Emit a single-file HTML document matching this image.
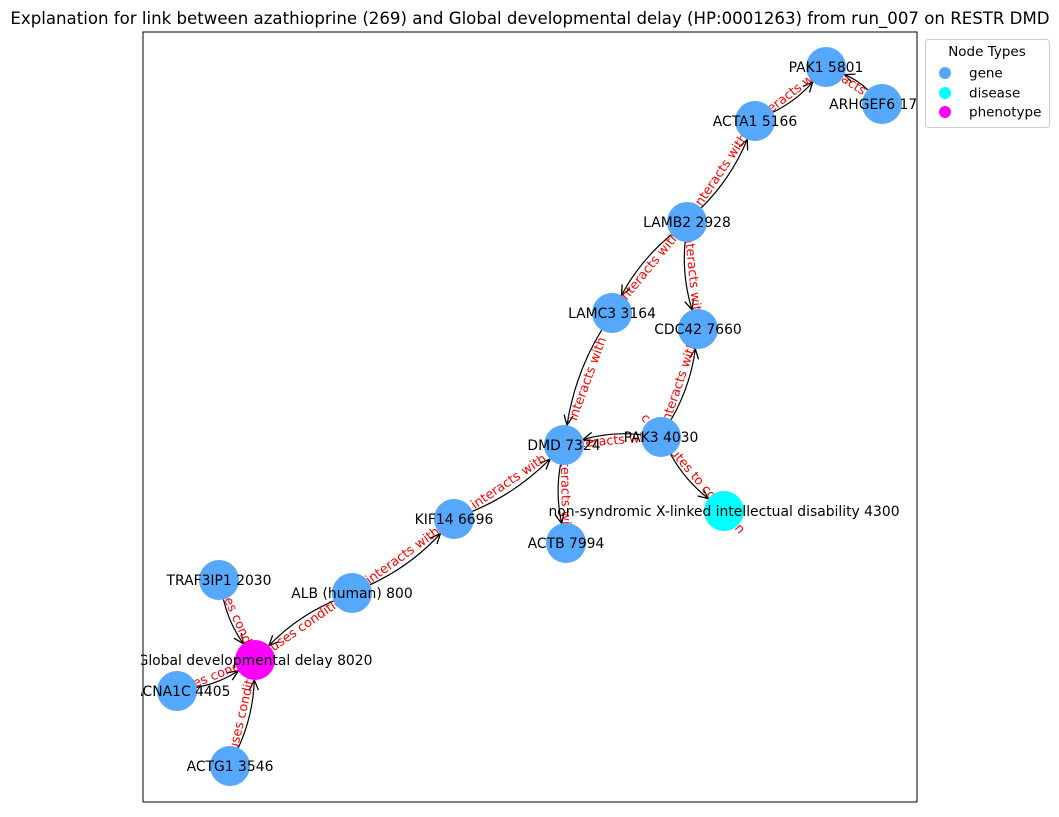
<!DOCTYPE html>
<html><head><meta charset="utf-8"><style>
body{margin:0;background:#fff;}
svg{font-family:"DejaVu Sans","Liberation Sans",sans-serif;}
</style></head><body>
<svg width="1059" height="812" viewBox="0 0 1059 812">
<defs>
<clipPath id="ax"><rect x="141" y="32" width="776" height="770"/></clipPath>
<marker id="arr" viewBox="0 0 12 12" refX="11" refY="6" markerWidth="12" markerHeight="12" markerUnits="userSpaceOnUse" orient="auto">
<path d="M1,1.5 L11,6 L1,10.5" fill="none" stroke="#000" stroke-width="1.3"/></marker>
</defs>
<text x="530" y="24" font-size="16.6" text-anchor="middle">Explanation for link between azathioprine (269) and Global developmental delay (HP:0001263) from run_007 on RESTR DMD</text>
<rect x="143" y="32" width="774" height="770" fill="none" stroke="#000" stroke-width="1"/>
<g id="edges" clip-path="url(#ax)"></g>
<g id="elabels"></g>
<g id="nodes" clip-path="url(#ax)"></g>
<g>
<rect x="925.5" y="39.5" width="124" height="88" rx="3" fill="#fff" stroke="#ccc"/>
<text x="987" y="56" font-size="13.5" text-anchor="middle">Node Types</text>
<circle cx="945" cy="73" r="6" fill="#56a8fc"/>
<text x="969" y="77.5" font-size="13.5">gene</text>
<circle cx="945" cy="93" r="6" fill="#00ffff"/>
<text x="969" y="97.5" font-size="13.5">disease</text>
<circle cx="945" cy="112" r="6" fill="#ff00ff"/>
<text x="969" y="116.5" font-size="13.5">phenotype</text>
</g>
</svg>
<script>
const nodeNames=["PAK1 5801","ARHGEF6 1700","ACTA1 5166","LAMB2 2928","LAMC3 3164","CDC42 7660","DMD 7324","PAK3 4030","non-syndromic X-linked intellectual disability 4300","KIF14 6696","ACTB 7994","TRAF3IP1 2030","ALB (human) 800","Global developmental delay 8020","CACNA1C 4405","ACTG1 3546"];
const nodeTypes=["gene","gene","gene","gene","gene","gene","gene","gene","disease","gene","gene","gene","gene","phenotype","gene","gene"];
const nodeX=[826,882,755,687,612,698,564,661,724,454,566,219,352,255,177,230];
const nodeY=[67,104,121,222,313,329,445,437,511,519,543,580,593,660,691,766];
const edgeFrom=[1,2,3,3,3,4,7,7,7,6,9,12,12,11,14,15];
const edgeTo=[0,0,2,4,5,6,5,6,8,10,6,9,13,13,13,13];
const edgeLabels=["interacts with","interacts with","interacts with","interacts with","interacts with","interacts with","interacts with","interacts with","contributes to condition","interacts with","interacts with","interacts with","causes condition","causes condition","causes condition","causes condition"];
const colors={gene:"#56a8fc",disease:"#00ffff",phenotype:"#ff00ff"};
const NS="http://www.w3.org/2000/svg";
const R=20, rad=0.1;
const eg=document.getElementById('edges'),lg=document.getElementById('elabels'),ng=document.getElementById('nodes');
for(let i=0;i<edgeFrom.length;i++){
 const x1=nodeX[edgeFrom[i]],y1=nodeY[edgeFrom[i]],x2=nodeX[edgeTo[i]],y2=nodeY[edgeTo[i]];
 const dx=x2-x1,dy=y2-y1,mx=(x1+x2)/2,my=(y1+y2)/2;
 const cx=mx-rad*dy,cy=my+rad*dx;
 let ux=cx-x1,uy=cy-y1,l=Math.hypot(ux,uy);const sx=x1+R*ux/l,sy=y1+R*uy/l;
 ux=cx-x2;uy=cy-y2;l=Math.hypot(ux,uy);const ex=x2+R*ux/l,ey=y2+R*uy/l;
 const p=document.createElementNS(NS,'path');
 p.setAttribute('d',`M${sx},${sy} Q${cx},${cy} ${ex},${ey}`);
 p.setAttribute('fill','none');p.setAttribute('stroke','#000');p.setAttribute('stroke-width','1.2');
 p.setAttribute('marker-end','url(#arr)');
 
 
 eg.appendChild(p);
 let ang=Math.atan2(dy,dx)*180/Math.PI;if(ang>90)ang-=180;if(ang<-90)ang+=180;
 const t=document.createElementNS(NS,'text');
 t.setAttribute('x',mx);t.setAttribute('y',my);
 t.setAttribute('transform',`rotate(${ang} ${mx} ${my})`);
 t.setAttribute('font-size','12.8');t.setAttribute('fill','#ff0000');
 t.setAttribute('text-anchor','middle');t.setAttribute('dominant-baseline','central');
 t.textContent=edgeLabels[i];
 
 
 lg.appendChild(t);
}
for(let i=0;i<nodeNames.length;i++){
 const c=document.createElementNS(NS,'circle');
 c.setAttribute('cx',nodeX[i]);c.setAttribute('cy',nodeY[i]);c.setAttribute('r',R);
 c.setAttribute('fill',colors[nodeTypes[i]]);
 
 
 ng.appendChild(c);
}
for(let i=0;i<nodeNames.length;i++){
 const t=document.createElementNS(NS,'text');
 t.setAttribute('x',nodeX[i]);t.setAttribute('y',nodeY[i]+1);
 t.setAttribute('font-size','13.9');t.setAttribute('text-anchor','middle');t.setAttribute('dominant-baseline','central');
 t.textContent=nodeNames[i];
 
 
 ng.appendChild(t);
}
</script>
</body></html>
